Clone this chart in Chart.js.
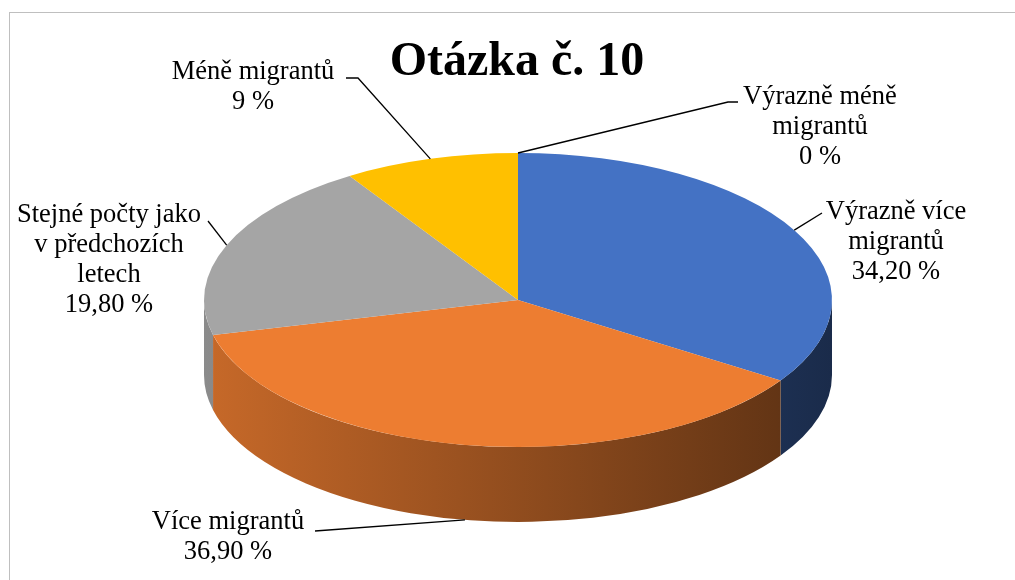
<!DOCTYPE html>
<html>
<head>
<meta charset="utf-8">
<script src="https://cdn.jsdelivr.net/npm/chart.js@4.4.1/dist/chart.umd.min.js"></script>
<style>
  html, body { margin: 0; padding: 0; background: #ffffff; }
  #wrap { width: 1015px; height: 580px; position: relative; }
</style>
</head>
<body>
<div id="wrap"><canvas id="c" width="1015" height="580"></canvas></div>
<script>
// ---- data ----
const chartTitle = 'Otázka č. 10';
const categories = ['Výrazně více migrantů', 'Více migrantů', 'Stejné počty jako v předchozích letech', 'Méně migrantů', 'Výrazně méně migrantů'];
const values = [34.2, 36.9, 19.8, 9, 0];
const colors = ['#4472C4', '#ED7D31', '#A5A5A5', '#FFC000', '#5B9BD5'];

// ---- layout (positions / styles only) ----
const SERIF = "'Liberation Serif', 'Times New Roman', serif";
const PIE = { cx: 518, cy: 300, rx: 314, ry: 147, depth: 75 };
// words per text line for each label
const labelLayout = [
  { x: 896, y: 212, words: [2, 1],    leader: [[822, 213]], bottom: false },
  { x: 228, y: 522, words: [2],       leader: [[315, 531]], bottom: true },
  { x: 109, y: 215, words: [3, 2, 1], leader: [[208, 221]], bottom: false },
  { x: 253, y: 72,  words: [2],       leader: [[346, 78], [358, 78]], bottom: false },
  { x: 820, y: 97,  words: [2, 1],    leader: [[738, 102], [728, 102]], bottom: false }
];
const LINE_H = 30;

function fmt(v) {
  return (Number.isInteger(v) ? String(v) : v.toFixed(2).replace('.', ',')) + ' %';
}
function shade(hex, f) {
  const n = parseInt(hex.slice(1), 16);
  const r = Math.round(((n >> 16) & 255) * f), g = Math.round(((n >> 8) & 255) * f), b = Math.round((n & 255) * f);
  return `rgb(${r},${g},${b})`;
}
function splitLines(text, counts) {
  const words = text.split(' ');
  const lines = [];
  let idx = 0;
  counts.forEach(c => { lines.push(words.slice(idx, idx + c).join(' ')); idx += c; });
  if (idx < words.length) lines.push(words.slice(idx).join(' '));
  return lines;
}

const pie3d = {
  id: 'pie3d',
  beforeDatasetsDraw(chart) {
    const ctx = chart.ctx;
    const meta = chart.getDatasetMeta(0);
    // extruded side walls (front half only)
    meta.data.forEach((arc, i) => {
      const p = arc.getProps(['startAngle', 'endAngle'], true);
      const a0 = Math.max(p.startAngle, 0), a1 = Math.min(p.endAngle, Math.PI);
      if (a1 <= a0) return;
      const g = ctx.createLinearGradient(PIE.cx - PIE.rx, 0, PIE.cx + PIE.rx, 0);
      g.addColorStop(0, shade(colors[i], 0.84));
      g.addColorStop(1, shade(colors[i], 0.38));
      ctx.save();
      ctx.beginPath();
      ctx.ellipse(PIE.cx, PIE.cy, PIE.rx, PIE.ry, 0, a0, a1, false);
      ctx.ellipse(PIE.cx, PIE.cy + PIE.depth, PIE.rx, PIE.ry, 0, a1, a0, true);
      ctx.closePath();
      ctx.fillStyle = g;
      ctx.fill();
      ctx.restore();
    });
    // squash the library's pie into the top face
    const a = meta.data[0];
    const R = a.outerRadius;
    ctx.save();
    ctx.translate(PIE.cx, PIE.cy);
    ctx.scale(PIE.rx / R, PIE.ry / R);
    ctx.translate(-a.x, -a.y);
  },
  afterDatasetsDraw(chart) {
    chart.ctx.restore();
  },
  afterDraw(chart) {
    const ctx = chart.ctx;
    const meta = chart.getDatasetMeta(0);
    ctx.save();
    // frame
    ctx.strokeStyle = '#BFBFBF';
    ctx.lineWidth = 1;
    ctx.strokeRect(9.5, 12.5, 1020, 580);
    ctx.font = '26.5px ' + SERIF;
    ctx.fillStyle = '#000';
    ctx.textAlign = 'center';
    ctx.textBaseline = 'middle';
    meta.data.forEach((arc, i) => {
      const L = labelLayout[i];
      const p = arc.getProps(['startAngle', 'endAngle'], true);
      const mid = (p.startAngle + p.endAngle) / 2;
      const tx = PIE.cx + PIE.rx * Math.cos(mid);
      const ty = PIE.cy + PIE.ry * Math.sin(mid) + (L.bottom ? PIE.depth : 0);
      ctx.strokeStyle = '#000';
      ctx.lineWidth = 1.3;
      ctx.beginPath();
      ctx.moveTo(L.leader[0][0], L.leader[0][1]);
      for (let k = 1; k < L.leader.length; k++) ctx.lineTo(L.leader[k][0], L.leader[k][1]);
      ctx.lineTo(tx, ty);
      ctx.stroke();
      const lines = splitLines(categories[i], L.words).concat([fmt(values[i])]);
      lines.forEach((ln, k) => ctx.fillText(ln, L.x, L.y + k * LINE_H));
    });
    ctx.restore();
  }
};

new Chart(document.getElementById('c'), {
  type: 'pie',
  data: {
    labels: categories,
    datasets: [{ data: values, backgroundColor: colors, borderWidth: 0, clip: false }]
  },
  options: {
    responsive: false,
    animation: false,
    events: [],
    layout: { padding: { left: 19, top: 0, right: 0, bottom: 0 } },
    plugins: {
      legend: { display: false },
      tooltip: { enabled: false },
      title: {
        display: true,
        text: chartTitle,
        color: '#000',
        font: { family: SERIF, size: 48, weight: 'bold' },
        padding: { top: 34, bottom: 10 }
      }
    }
  },
  plugins: [pie3d]
});
</script>
</body>
</html>
